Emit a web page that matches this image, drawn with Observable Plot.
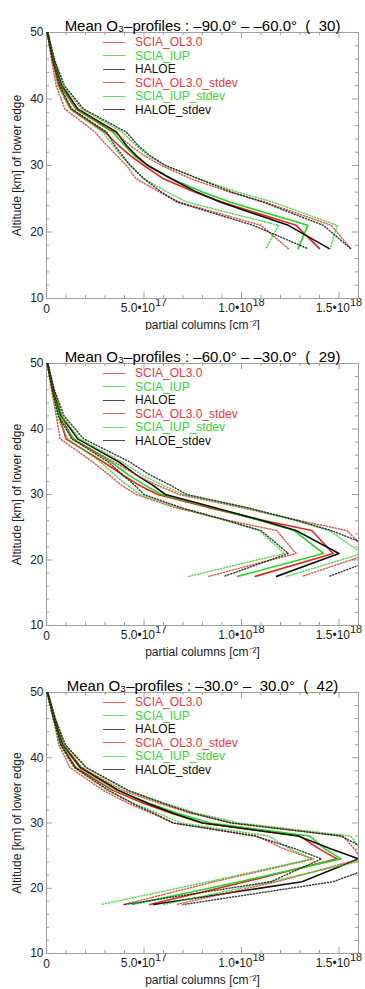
<!DOCTYPE html>
<html><head><meta charset="utf-8">
<script src="https://cdn.jsdelivr.net/npm/d3@7"></script>
<script src="https://cdn.jsdelivr.net/npm/@observablehq/plot@0.6"></script>
<style>
body{margin:0;background:#fff;font-family:"Liberation Sans",Arial,sans-serif;}
#chart{width:365px;}
.panel{position:relative;width:365px;height:auto;}
.panel svg{display:block;overflow:visible}
.panel svg text{white-space:pre}
.legend{position:absolute;left:103px;font-size:12px;font-family:"Liberation Sans",Arial,sans-serif;}
.legend .row{display:flex;align-items:center;height:13.5px;white-space:nowrap}
.legend .ln{display:inline-block;width:22px;height:0;border-top:1px solid;margin-right:10px;opacity:.75}
</style></head><body><div id="chart"></div><script>
// Altitude levels [km] (lower edge)
const altitude = [50, 46, 42, 38.5, 35, 33, 31.5, 30, 28, 26, 24.5, 21, 17.5];
// x ticks (partial columns in units of 1e17 cm^-2) and their labels: mantissa|exponent
const xTicks = [0, 5, 10, 15];
const xTickLabels = ["0", "5.0\u202210|17", "1.0\u202210|18", "1.5\u202210|18"];
const yTicks = [10, 20, 30, 40, 50];
const legendNames = ["SCIA_OL3.0", "SCIA_IUP", "HALOE", "SCIA_OL3.0_stdev", "SCIA_IUP_stdev", "HALOE_stdev"];
const titles = [
  "Mean O\u2083\u2013profiles : \u201390.0\u00b0 \u2013 \u201360.0\u00b0  (  30)",
  "Mean O\u2083\u2013profiles : \u201360.0\u00b0 \u2013 \u201330.0\u00b0  (  29)",
  "Mean O\u2083\u2013profiles : \u201330.0\u00b0 \u2013  30.0\u00b0  (  42)"
];

// Panel 1: -90 .. -60  (means and stdev, 1e17 cm^-2)
const p1_ol30  = [0.05, 0.3, 0.62, 1.24, 3.0, 3.7, 4.3, 5.0, 6.0, 7.6, 9.0, 12.8, 14.0];
const p1_iup   = [0.05, 0.35, 0.72, 1.5, 3.4, 4.0, 4.5, 5.2, 6.4, 8.0, 9.4, 13.4, 12.9];
const p1_haloe = [0.05, 0.35, 0.8, 1.6, 3.6, 4.1, 4.6, 5.2, 6.4, 7.7, 8.9, 12.4, 14.5];
const p1_ol30_sd  = [0.02, 0.05, 0.12, 0.3, 0.5, 0.6, 0.7, 0.9, 1.4, 1.8, 2.2, 1.8, 1.6];
const p1_iup_sd   = [0.02, 0.05, 0.12, 0.3, 0.5, 0.6, 0.7, 0.9, 1.4, 1.8, 2.2, 1.5, 1.65];
const p1_haloe_sd = [0.02, 0.05, 0.12, 0.3, 0.5, 0.6, 0.7, 0.9, 1.4, 1.8, 2.2, 1.8, 1.1];

// Panel 2: -60 .. -30
const p2_ol30  = [0.05, 0.3, 0.65, 1.0, 2.9, 3.9, 4.7, 5.7, 8.3, 11.2, 13.6, 14.7, 10.7];
const p2_iup   = [0.05, 0.35, 0.65, 1.4, 3.3, 4.2, 5.0, 5.9, 8.5, 11.0, 12.7, 14.2, 9.8];
const p2_haloe = [0.05, 0.35, 0.75, 1.6, 3.7, 4.6, 5.4, 6.1, 8.6, 11.1, 12.8, 15.0, 11.8];
const p2_ol30_sd  = [0.02, 0.05, 0.15, 0.3, 0.55, 0.7, 0.9, 1.1, 1.7, 1.8, 1.8, 1.9, 2.4];
const p2_iup_sd   = [0.02, 0.05, 0.15, 0.3, 0.55, 0.7, 0.9, 1.1, 1.7, 1.8, 1.8, 2.0, 2.5];
const p2_haloe_sd = [0.02, 0.05, 0.15, 0.3, 0.55, 0.7, 0.9, 1.1, 1.7, 1.8, 1.8, 2.6, 2.7];

// Panel 3: -30 .. 30
const p3_ol30  = [0.05, 0.4, 0.75, 1.5, 3.4, 5.0, 6.4, 8.0, 13.0, 14.0, 14.9, 10.2, 5.3];
const p3_iup   = [0.05, 0.4, 0.8, 1.7, 3.6, 5.3, 6.7, 8.4, 13.5, 14.3, 15.1, 9.9, 4.4];
const p3_haloe = [0.05, 0.4, 0.85, 1.75, 3.7, 5.2, 6.5, 8.0, 12.9, 14.6, 16.0, 13.1, 5.5];
const p3_ol30_sd  = [0.02, 0.05, 0.12, 0.3, 0.5, 0.8, 1.0, 1.5, 2.2, 1.8, 1.2, 1.6, 1.35];
const p3_iup_sd   = [0.02, 0.05, 0.12, 0.3, 0.5, 0.8, 1.0, 1.5, 2.1, 1.8, 1.5, 1.6, 1.6];
const p3_haloe_sd = [0.02, 0.05, 0.12, 0.3, 0.5, 0.8, 1.0, 1.5, 2.2, 1.8, 1.9, 1.6, 1.5];

const colors = ["#e8241e", "#22d622", "#111111"];
const textColors = ["#e83a3a", "#33d633", "#111111", "#e83a3a", "#33d633", "#111111"];

const panels = [
  {title: titles[0], means: [p1_ol30, p1_iup, p1_haloe], sds: [p1_ol30_sd, p1_iup_sd, p1_haloe_sd], height: 330, mt: 32, mb: 32},
  {title: titles[1], means: [p2_ol30, p2_iup, p2_haloe], sds: [p2_ol30_sd, p2_iup_sd, p2_haloe_sd], height: 330, mt: 33, mb: 35},
  {title: titles[2], means: [p3_ol30, p3_iup, p3_haloe], sds: [p3_ol30_sd, p3_iup_sd, p3_haloe_sd], height: 329, mt: 32, mb: 36}
];

const W = 365, ML = 46, MR = 7;
const xMinor = d3.range(1, 16).filter(d => d % 5 !== 0);
const yMinor = d3.range(12, 50, 2).filter(d => d % 10 !== 0);
const frameCol = "#a0a0a0";

const root = document.getElementById("chart");
panels.forEach(p => {
  const fh = p.height - p.mt - p.mb, fw = W - ML - MR;
  const marks = [];
  // inward ticks on all four sides
  marks.push(Plot.tickX(xTicks, {x: d => d, insetTop: fh - 6, stroke: frameCol}));
  marks.push(Plot.tickX(xTicks, {x: d => d, insetBottom: fh - 6, stroke: frameCol}));
  marks.push(Plot.tickX(xMinor, {x: d => d, insetTop: fh - 3, stroke: frameCol}));
  marks.push(Plot.tickX(xMinor, {x: d => d, insetBottom: fh - 3, stroke: frameCol}));
  marks.push(Plot.tickY(yTicks, {y: d => d, insetRight: fw - 6, stroke: frameCol}));
  marks.push(Plot.tickY(yTicks, {y: d => d, insetLeft: fw - 6, stroke: frameCol}));
  marks.push(Plot.tickY(yMinor, {y: d => d, insetRight: fw - 3, stroke: frameCol}));
  marks.push(Plot.tickY(yMinor, {y: d => d, insetLeft: fw - 3, stroke: frameCol}));
  marks.push(Plot.frame({stroke: frameCol}));
  // mean profiles
  p.means.forEach((m, k) => {
    const rows = altitude.map((a, i) => ({a, v: m[i]}));
    marks.push(Plot.line(rows, {x: "v", y: "a", stroke: colors[k], strokeWidth: 1.6, clip: true}));
  });
  // stdev envelopes (mean +/- stdev), dotted
  p.sds.forEach((s, k) => {
    const m = p.means[k];
    const lo = altitude.map((a, i) => ({a, v: m[i] - s[i]}));
    const hi = altitude.map((a, i) => ({a, v: m[i] + s[i]}));
    [lo, hi].forEach(rows => marks.push(Plot.line(rows, {x: "v", y: "a", stroke: colors[k], strokeWidth: 1.5, strokeDasharray: "1,2", strokeOpacity: 0.8, clip: true})));
  });
  marks.push(Plot.text([p.title], {text: d => d, frameAnchor: "top", dy: -12, fontSize: 15, fill: "#000"}));

  const svg = Plot.plot({
    width: W, height: p.height,
    marginLeft: ML, marginRight: MR, marginTop: p.mt, marginBottom: p.mb,
    style: {fontFamily: "'Liberation Sans', Arial, sans-serif", fontSize: "12px", color: "#222", background: "#fff", overflow: "visible"},
    x: {domain: [0, 16], ticks: xTicks, tickFormat: d => xTickLabels[xTicks.indexOf(d)], tickSize: 0, tickPadding: 6,
        label: "partial columns [cm\u207b\u00b2]", labelAnchor: "center", labelOffset: 30, labelArrow: false},
    y: {domain: [10, 50], ticks: yTicks, tickSize: 0, tickPadding: 3,
        label: "Altitude [km] of lower edge", labelAnchor: "center", labelOffset: 34, labelArrow: false},
    marks
  });
  // typeset tick-label exponents as raised text
  svg.querySelectorAll("text").forEach(t => {
    const s = t.textContent;
    if (s.includes("|") && t.children.length === 0) {
      const [base, exp] = s.split("|");
      t.textContent = "";
      const b = document.createElementNS("http://www.w3.org/2000/svg", "tspan");
      b.textContent = base;
      const e = document.createElementNS("http://www.w3.org/2000/svg", "tspan");
      e.textContent = exp;
      e.setAttribute("dy", "-0.55em");
      e.setAttribute("font-size", "11px");
      t.appendChild(b); t.appendChild(e);
      t.setAttribute("dy", "-0.05em");
    }
  });
  const div = document.createElement("div");
  div.className = "panel";
  div.appendChild(svg);
  const leg = document.createElement("div");
  leg.className = "legend";
  leg.style.top = (p.mt + 3.5) + "px";
  legendNames.forEach((n, i) => {
    const r = document.createElement("div");
    r.className = "row";
    r.style.color = textColors[i];
    const ln = document.createElement("span");
    ln.className = "ln";
    ln.style.borderColor = colors[i % 3];
    r.appendChild(ln);
    r.appendChild(document.createTextNode(n));
    leg.appendChild(r);
  });
  div.appendChild(leg);
  root.appendChild(div);
});
</script></body></html>
